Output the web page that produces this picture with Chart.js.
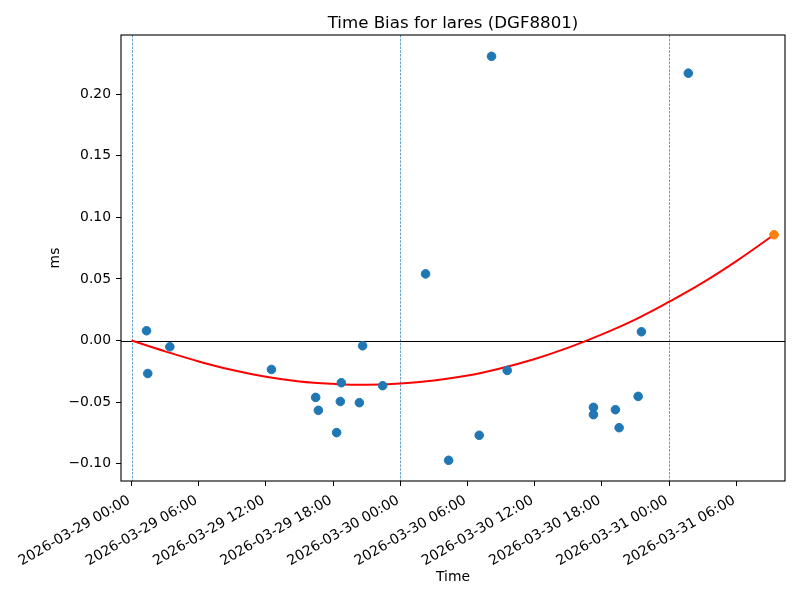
<!DOCTYPE html>
<html>
<head>
<meta charset="utf-8">
<script src="https://cdn.jsdelivr.net/npm/chart.js@4.4.1/dist/chart.umd.min.js"></script>
<style>
  html, body { margin: 0; padding: 0; background: #fff; }
  #wrap { width: 800px; height: 600px; }
</style>
</head>
<body>
<div id="wrap"><canvas id="biasChart" width="800" height="600"></canvas></div>
<script>
// all times are hours after 2026-03-29 00:00
const obsHours = [1.34, 1.45, 3.42, 12.49, 16.44, 16.68, 18.31, 18.64, 18.73, 20.34, 20.63, 22.42,
                  26.25, 28.31, 31.04, 32.14, 33.54, 41.24, 41.24, 43.20, 43.53, 45.23, 45.52, 49.71];
const obsBias = [0.0079, -0.0268, -0.0051, -0.0235, -0.0462, -0.0567, -0.0748, -0.0495, -0.0343, -0.0505, -0.0043, -0.0367,
                 0.0541, -0.0973, -0.0770, 0.2308, -0.0243, -0.0543, -0.0602, -0.0562, -0.0708, -0.0454, 0.0071, 0.2171];

const fitHours = [0, 3, 6, 9, 12, 15, 18, 21, 24, 27, 30, 33, 36, 39, 42, 45, 48, 51, 54, 57.36];
const fitBias = [0, -0.0088, -0.0170, -0.0240, -0.0295, -0.0333, -0.0352, -0.0360, -0.0350, -0.0325, -0.0285, -0.0225,
                 -0.0150, -0.0058, 0.0050, 0.0172, 0.0315, 0.0470, 0.0645, 0.0859];

const predHours = [57.36];
const predBias = [0.0859];

const dayLines = [0, 24, 48];

const xTickHours = [0, 6, 12, 18, 24, 30, 36, 42, 48, 54];
const xTickLabels = ['2026-03-29 00:00', '2026-03-29 06:00', '2026-03-29 12:00', '2026-03-29 18:00',
                     '2026-03-30 00:00', '2026-03-30 06:00', '2026-03-30 12:00', '2026-03-30 18:00',
                     '2026-03-31 00:00', '2026-03-31 06:00'];
const yTickValues = [-0.10, -0.05, 0.00, 0.05, 0.10, 0.15, 0.20];

const chartTitle = 'Time Bias for lares (DGF8801)';

function toPoints(xs, ys) {
    return xs.map(function (h, i) { return { x: h, y: ys[i] }; });
}

const tickFont = { family: 'DejaVu Sans', size: 13.9 };

// dashed day boundaries, zero line, box round the axes, title and the slanted time labels
const refLines = {
    id: 'refLines',
    beforeDatasetsDraw(chart) {
        const { ctx, chartArea: a, scales: { x, y } } = chart;
        ctx.save();
        ctx.beginPath();
        ctx.rect(a.left, a.top, a.width, a.height);
        ctx.clip();
        ctx.strokeStyle = '#1f77b4';
        ctx.lineWidth = 0.7;
        ctx.setLineDash([2.6, 1.2]);
        dayLines.forEach(function (h) {
            const px = Math.round(x.getPixelForValue(h)) + 0.5;
            ctx.beginPath();
            ctx.moveTo(px, a.top);
            ctx.lineTo(px, a.bottom);
            ctx.stroke();
        });
        ctx.setLineDash([]);
        ctx.strokeStyle = '#000';
        ctx.lineWidth = 1;
        const py = Math.round(y.getPixelForValue(0)) + 0.5;
        ctx.beginPath();
        ctx.moveTo(a.left, py);
        ctx.lineTo(a.right, py);
        ctx.stroke();
        ctx.restore();
    },
    afterDraw(chart) {
        const { ctx, chartArea: a, scales: { x } } = chart;
        ctx.save();
        ctx.strokeStyle = '#000';
        ctx.lineWidth = 1.1;
        ctx.strokeRect(a.left, a.top, a.width, a.height);

        ctx.fillStyle = '#000';
        ctx.font = '16.67px "DejaVu Sans"';
        ctx.textAlign = 'center';
        ctx.textBaseline = 'alphabetic';
        ctx.fillText(chartTitle, (a.left + a.right) / 2, 27.5);

        ctx.font = '14px "DejaVu Sans"';
        ctx.textAlign = 'right';
        xTickHours.forEach(function (h, i) {
            const px = x.getPixelForValue(h);
            ctx.save();
            ctx.translate(px - 0.5, a.bottom + 21.5);
            ctx.rotate(-Math.PI / 6);
            ctx.fillText(xTickLabels[i], 0, 0);
            ctx.restore();
        });
        ctx.restore();
    }
};

new Chart(document.getElementById('biasChart'), {
    type: 'scatter',
    data: {
        datasets: [
            {
                label: 'fit',
                data: toPoints(fitHours, fitBias),
                showLine: true,
                borderColor: '#ff0000',
                borderWidth: 2,
                pointRadius: 0,
                tension: 0.4,
                fill: false,
                order: 3
            },
            {
                label: 'time bias',
                data: toPoints(obsHours, obsBias),
                backgroundColor: '#1f77b4',
                borderColor: '#1f77b4',
                borderWidth: 1,
                pointRadius: 4.3,
                order: 2
            },
            {
                label: 'prediction',
                data: toPoints(predHours, predBias),
                backgroundColor: '#ff7f0e',
                borderColor: '#ff7f0e',
                borderWidth: 1,
                pointRadius: 4.3,
                order: 1
            }
        ]
    },
    options: {
        responsive: false,
        animation: false,
        layout: { padding: { left: 0, right: 15, top: 35, bottom: 0 } },
        plugins: {
            legend: { display: false },
            tooltip: { enabled: false },
            title: { display: false }
        },
        scales: {
            x: {
                type: 'linear',
                min: -0.94,
                max: 58.34,
                afterBuildTicks: function (s) { s.ticks = xTickHours.map(function (v) { return { value: v }; }); },
                afterFit: function (s) { s.height = 119; },
                border: { display: false },
                grid: { drawOnChartArea: false, drawTicks: true, tickLength: 5, tickColor: '#000', tickWidth: 1 },
                ticks: { display: false },
                title: { display: true, text: 'Time', color: '#000', font: tickFont, padding: { top: 0, bottom: 14.7 } }
            },
            y: {
                min: -0.1141,
                max: 0.2481,
                afterBuildTicks: function (s) { s.ticks = yTickValues.map(function (v) { return { value: v }; }); },
                afterFit: function (s) { s.width = 121; },
                border: { display: false },
                grid: { drawOnChartArea: false, drawTicks: true, tickLength: 5, tickColor: '#000', tickWidth: 1 },
                ticks: {
                    padding: 5,
                    color: '#000',
                    font: tickFont,
                    callback: function (v) { return v.toFixed(2).replace('-', '\u2212'); }
                },
                title: { display: true, text: 'ms', color: '#000', font: tickFont, padding: { top: 46.7, bottom: 0 } }
            }
        }
    },
    plugins: [refLines]
});
</script>
</body>
</html>
